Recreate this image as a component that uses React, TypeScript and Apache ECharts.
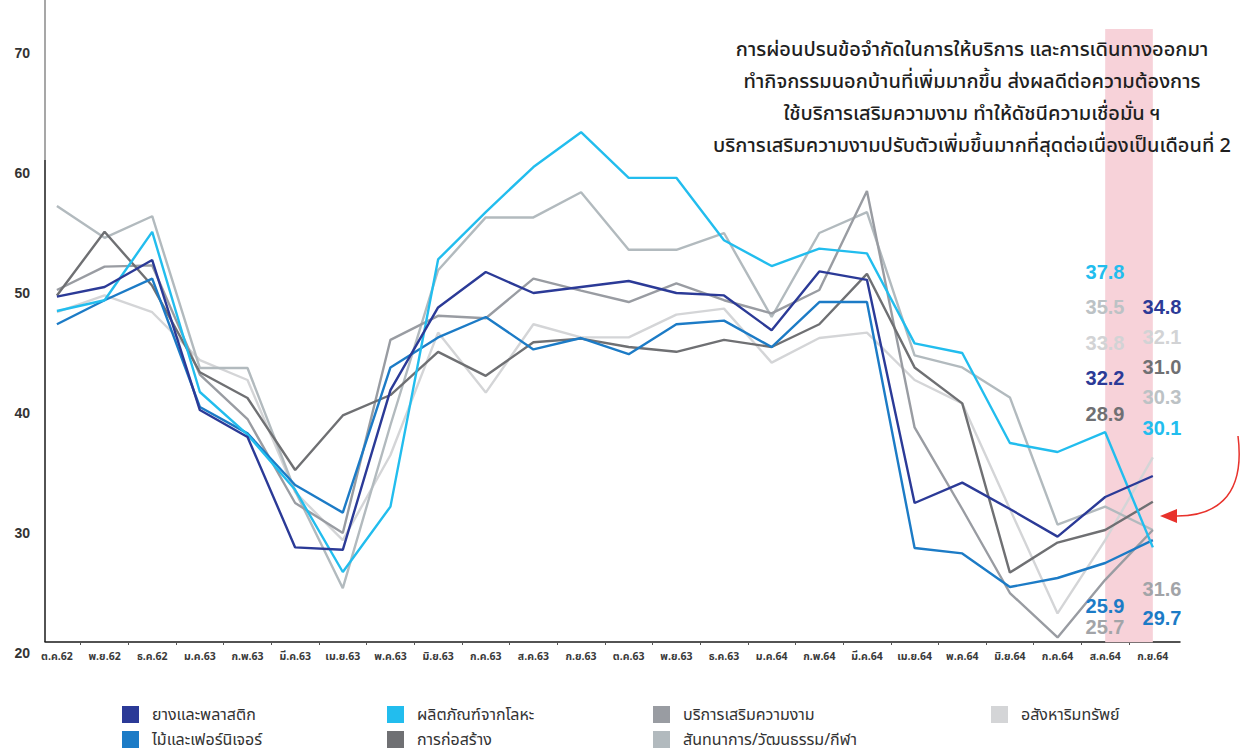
import React, { useEffect, useRef } from "react";
import * as echarts from "echarts";

const months = ["ต.ค.62","พ.ย.62","ธ.ค.62","ม.ค.63","ก.พ.63","มี.ค.63","เม.ย.63","พ.ค.63","มิ.ย.63","ก.ค.63","ส.ค.63","ก.ย.63","ต.ค.63","พ.ย.63","ธ.ค.63","ม.ค.64","ก.พ.64","มี.ค.64","เม.ย.64","พ.ค.64","มิ.ย.64","ก.ค.64","ส.ค.64","ก.ย.64"];

const seriesNames = ["ยางและพลาสติก","ผลิตภัณฑ์จากโลหะ","บริการเสริมความงาม","อสังหาริมทรัพย์","ไม้และเฟอร์นิเจอร์","การก่อสร้าง","สันทนาการ/วัฒนธรรม/กีฬา"];
const seriesColors = ["#2b3a97","#22bdee","#999ca2","#d4d5d7","#1c7bc6","#6f7073","#b2babe"];

const rubber = [49.7, 50.5, 52.75, 40.25, 38.0, 28.8, 28.6, 41.9, 48.8, 51.75, 50.0, 50.5, 51.0, 50.0, 49.8, 46.9, 51.8, 51.1, 32.5, 34.2, 32.0, 29.7, 33.0, 34.75];
const metal = [48.5, 49.4, 55.1, 41.75, 38.2, 33.6, 26.75, 32.2, 52.8, 56.75, 60.5, 63.4, 59.6, 59.6, 54.4, 52.25, 53.7, 53.3, 45.8, 45.0, 37.5, 36.75, 38.4, 28.8];
const beauty = [50.25, 52.2, 52.3, 43.2, 39.5, 32.5, 30.0, 46.1, 48.1, 47.9, 51.2, 50.2, 49.25, 50.8, 49.4, 48.3, 50.25, 58.5, 38.8, 32.0, 25.0, 21.3, 26.1, 30.25];
const realEstate = [48.4, 49.8, 48.4, 44.4, 42.75, 33.4, 29.4, 36.5, 46.7, 41.7, 47.4, 46.3, 46.3, 48.2, 48.7, 44.2, 46.25, 46.7, 42.75, 40.8, 32.0, 23.3, 29.4, 36.3];
const wood = [47.4, 49.4, 51.2, 40.5, 38.3, 34.0, 31.7, 43.8, 46.3, 48.0, 45.3, 46.25, 44.9, 47.4, 47.7, 45.5, 49.25, 49.25, 28.75, 28.3, 25.5, 26.25, 27.5, 29.4];
const construction = [49.8, 55.1, 50.6, 43.4, 41.25, 35.25, 39.8, 41.5, 45.1, 43.1, 45.9, 46.2, 45.5, 45.1, 46.1, 45.5, 47.4, 51.6, 43.8, 40.8, 26.7, 29.2, 30.25, 32.6];
const entertainment = [57.25, 54.6, 56.4, 43.75, 43.75, 33.5, 25.4, 39.0, 51.9, 56.3, 56.3, 58.4, 53.6, 53.6, 55.0, 48.0, 55.0, 56.75, 44.8, 43.8, 41.3, 30.7, 32.2, 30.25];

const seriesValues = [rubber, metal, beauty, realEstate, wood, construction, entertainment];

// labelled index values (series order as above)
const labelsAug = [32.2, 37.8, 25.7, 33.8, 25.9, 28.9, 35.5];
const labelsSep = [34.8, 30.1, 31.6, 32.1, 29.7, 31.0, 30.3];
const labelColors = ["#2b3a97","#22bdee","#a2a4a8","#d2d3d5","#1c7bc6","#6f7073","#bcc2c5"];

const noteLines = [
  "การผ่อนปรนข้อจำกัดในการให้บริการ และการเดินทางออกมา",
  "ทำกิจกรรมนอกบ้านที่เพิ่มมากขึ้น ส่งผลดีต่อความต้องการ",
  "ใช้บริการเสริมความงาม ทำให้ดัชนีความเชื่อมั่น ฯ",
  "บริการเสริมความงามปรับตัวเพิ่มขึ้นมากที่สุดต่อเนื่องเป็นเดือนที่ 2",
];

const yTicks = [20, 30, 40, 50, 60, 70];

const FONT = "'Noto Sans Thai', 'Noto Sans', 'DejaVu Sans', sans-serif";
const NUMFONT = "'Liberation Sans', Roboto, sans-serif";

export default function App() {
  const ref = useRef<HTMLDivElement>(null);
  useEffect(() => {
    if (!ref.current) return;
    const chart = echarts.init(ref.current, null, { renderer: "svg" });

    // label column positions (layout only)
    const augY = [378, 272, 627, 343, 606, 414, 307];
    const sepY = [307, 428, 589, 337, 618, 367, 397];

    const graphics: any[] = [];
    graphics.push({ type: "line", shape: { x1: 45, y1: 0, x2: 45, y2: 160 }, style: { stroke: "#8a8a8a", lineWidth: 1.5 }, z: 10 });
    graphics.push({ type: "line", shape: { x1: 45, y1: 160, x2: 45, y2: 642 }, style: { stroke: "#1a1a1a", lineWidth: 1.5 }, z: 10 });
    noteLines.forEach((t, i) => {
      graphics.push({
        type: "text", x: 972, y: 50 + i * 32, z: 20,
        style: { text: t, fill: "#1f1f1f", font: `500 20px ${FONT}`, textAlign: "center", textVerticalAlign: "middle" },
      });
    });
    labelsAug.forEach((v, i) => {
      graphics.push({
        type: "text", x: 1105, y: augY[i], z: 20,
        style: { text: v.toFixed(1), fill: labelColors[i], font: `bold 20px ${NUMFONT}`, textAlign: "center", textVerticalAlign: "middle" },
      });
    });
    labelsSep.forEach((v, i) => {
      graphics.push({
        type: "text", x: 1162, y: sepY[i], z: 20,
        style: { text: v.toFixed(1), fill: labelColors[i], font: `bold 20px ${NUMFONT}`, textAlign: "center", textVerticalAlign: "middle" },
      });
    });
    graphics.push({
      type: "bezierCurve", z: 20,
      shape: { x1: 1238, y1: 436, cpx1: 1246, cpy1: 500, cpx2: 1212, cpy2: 517, x2: 1174, y2: 516 },
      style: { stroke: "#e8322c", lineWidth: 1.5, fill: null },
    });
    graphics.push({
      type: "polygon", z: 20,
      shape: { points: [[1160, 516], [1177, 509], [1177, 523]] },
      style: { fill: "#e8322c" },
    });

    // one legend per entry: column left x and row
    const legendLeft = [117, 382, 648, 986, 117, 382, 648];
    const legendTop = [701, 701, 701, 701, 726, 726, 726];
    const legends = seriesNames.map((name, i) => ({
      orient: "horizontal",
      left: legendLeft[i],
      top: legendTop[i],
      itemWidth: 17,
      itemHeight: 17,
      icon: "rect",
      data: [name],
      textStyle: { fontSize: 16, lineHeight: 17, color: "#333", fontFamily: FONT, padding: [0, 0, 0, 8] },
      selectedMode: false,
    }));

    const series: any[] = seriesValues.map((vals, k) => ({
      name: seriesNames[k],
      type: "line",
      data: vals.map((v, i) => [i, v]),
      showSymbol: false,
      symbol: "none",
      lineStyle: { color: seriesColors[k], width: 2.4 },
      itemStyle: { color: seriesColors[k] },
      z: [7, 6, 4, 2, 5, 4, 3][k],
    }));
    series.unshift({
      name: "highlight",
      type: "line",
      data: [],
      z: 1,
      markArea: {
        silent: true,
        itemStyle: { color: "#f7d2d9" },
        data: [[{ xAxis: 22, yAxis: 20.9 }, { xAxis: 23, yAxis: 72 }]],
      },
    });

    chart.setOption({
      animation: false,
      backgroundColor: "#ffffff",
      grid: { left: 45, right: 60, top: 0, bottom: 103 },
      legend: legends,
      xAxis: {
        type: "value",
        min: -0.25,
        max: 23.57,
        offset: -11,
        splitLine: { show: false },
        axisLine: { show: true, lineStyle: { color: "#1a1a1a", width: 1.5 } },
        axisTick: { show: true, length: 3, lineStyle: { color: "#555" }, customValues: months.map((_, i) => i + 0.5).slice(0, 23) },
        axisLabel: {
          customValues: months.map((_, i) => i),
          formatter: (v: number) => months[Math.round(v)] ?? "",
          fontSize: 10.5,
          fontWeight: "bold",
          color: "#3a3a3a",
          fontFamily: FONT,
          margin: 9,
        },
      },
      yAxis: {
        type: "value",
        min: 20,
        max: 74.42,
        interval: 10,
        splitLine: { show: false },
        axisLine: { show: false },
        axisTick: { show: false },
        axisLabel: {
          customValues: yTicks,
          formatter: (v: number) => String(v),
          fontSize: 14,
          fontWeight: "bold",
          color: "#333",
          fontFamily: NUMFONT,
          margin: 15,
        },
      },
      graphic: graphics,
      series,
    });
    return () => chart.dispose();
  }, []);
  return <div ref={ref} style={{ position: "absolute", left: 0, top: 0, width: 1240, height: 756 }} />;
}
